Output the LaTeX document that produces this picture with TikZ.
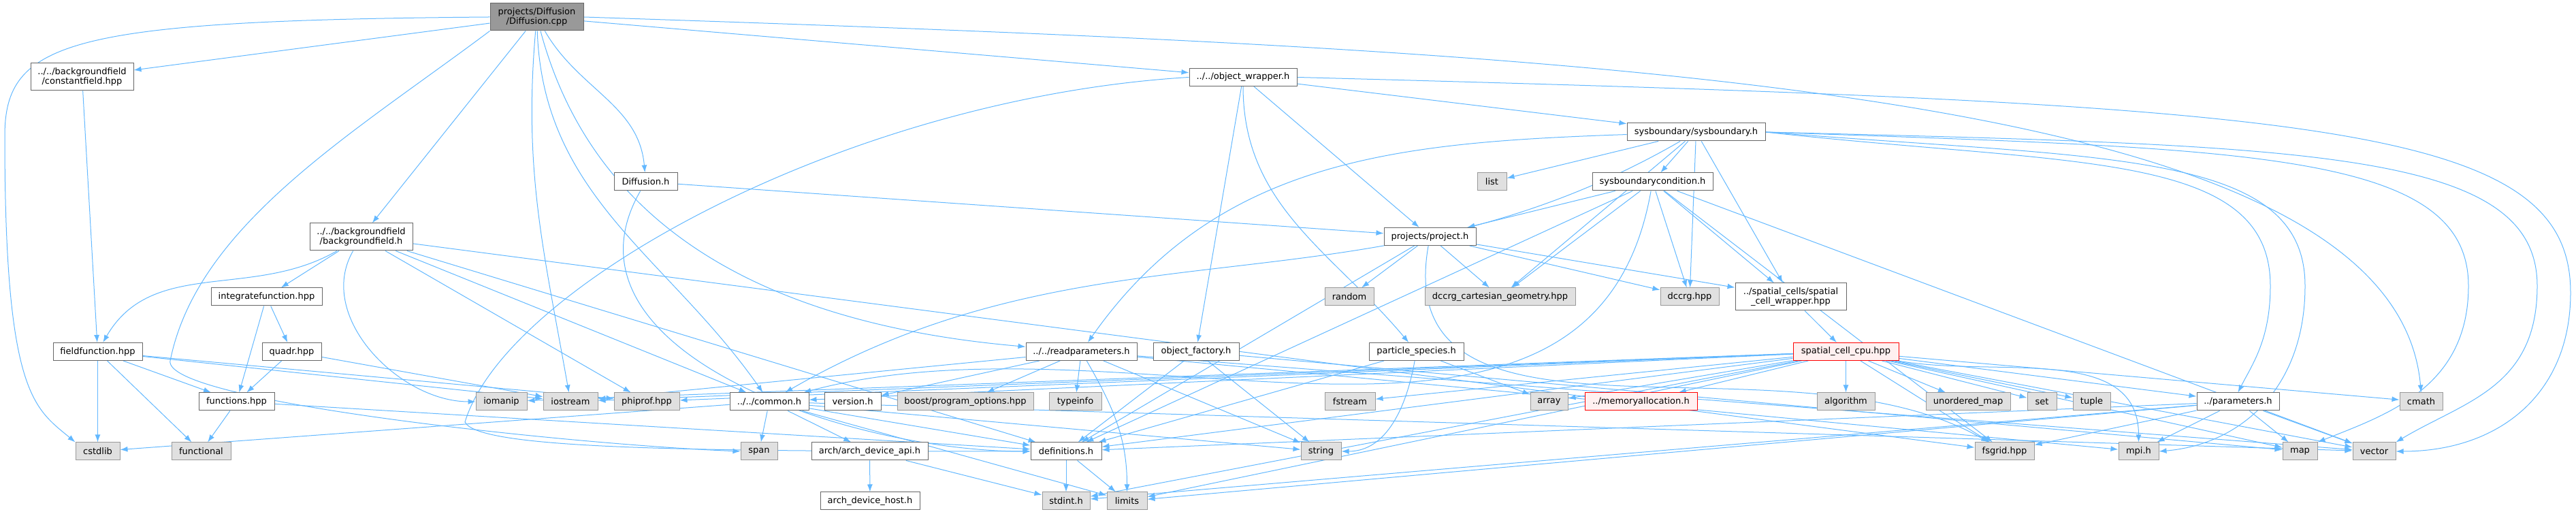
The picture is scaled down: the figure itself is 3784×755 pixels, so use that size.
\documentclass[tikz,border=0pt]{standalone}
\usepackage{fontspec}
\setmainfont{DejaVu Sans}
\usetikzlibrary{arrows.meta,backgrounds}
\definecolor{edgeblue}{HTML}{63B8FF}
\definecolor{sysfill}{HTML}{E0E0E0}
\definecolor{truncfill}{HTML}{FFF0F0}
\tikzset{
 file/.style
  = {rectangle, draw=black!60, fill=white, line width=0.25pt, inner xsep=0.5pt,
     inner ysep=0pt, minimum height=6.5pt, align=center,
     font=\fontsize{3.25}{3.65}\selectfont},
 sys/.style
  = {file, draw=black!40, fill=sysfill},
 root/.style
  = {file, fill=black!40, minimum height=10pt},
 trunc/.style
  = {file, draw=red, fill=truncfill},
 twoline/.style
  = {minimum height=10pt},
 wd/.style
  = {minimum width=0.25pt*#1},
 dep/.style
  = {draw=edgeblue, line width=0.25pt, -{Latex[length=2.75pt,width=2pt]}},
}

\begin{document}
\begin{tikzpicture}[x=0.25pt, y=-0.25pt]
\useasboundingbox (0,0) rectangle (3784,755);

% Top of the graph
\node[root, wd=137] (main) at (788.5,25) {projects/Diffusion\\/Diffusion.cpp};
\node[file, twoline, wd=151] (constF) at (120.5,113) {../../backgroundfield\\/constantfield.hpp};
\node[file, wd=158] (objWrap) at (1826,113.5) {../../object\_wrapper.h};
\node[file, wd=203] (sysbnd) at (2491.5,194) {sysboundary/sysboundary.h};
\node[file, wd=93] (diffH) at (948.5,267) {Diffusion.h};
\node[sys, wd=43] (list) at (2191.5,267) {list};
\node[file, wd=177] (sysbc) at (2427.5,267) {sysboundarycondition.h};
\node[file, twoline, wd=151] (bgField) at (530.5,348) {../../backgroundfield\\/backgroundfield.h};
\node[file, wd=135] (project) at (2100.5,347.5) {projects/project.h};

% Row 436
\node[file, wd=163] (integ) at (391.5,436) {integratefunction.hpp};
\node[sys, wd=72] (random) at (1982,436) {random};
\node[sys, wd=221] (dccrgCart) at (2203.5,436) {dccrg\_cartesian\_geometry.hpp};
\node[sys, wd=86] (dccrg) at (2482,436) {dccrg.hpp};
\node[file, twoline, wd=163] (scWrap) at (2630.5,436) {../spatial\_cells/spatial\\\_cell\_wrapper.hpp};

% Row 516
\node[file, wd=131] (fieldF) at (143.5,516.5) {fieldfunction.hpp};
\node[file, wd=87] (quadr) at (428.5,516.5) {quadr.hpp};
\node[file, wd=163] (readparams) at (1588.5,516.5) {../../readparameters.h};
\node[file, wd=126] (objFact) at (1757,516.5) {object\_factory.h};
\node[file, wd=139] (partSp) at (2080.5,516.5) {particle\_species.h};
\node[trunc, wd=155] (scCpu) at (2711.5,516.5) {spatial\_cell\_cpu.hpp};

% Row 590
\node[file, wd=111] (funcs) at (347.5,590) {functions.hpp};
\node[sys, wd=75] (iomanip) at (736.5,590) {iomanip};
\node[sys, wd=80] (iostream) at (838,590) {iostream};
\node[sys, wd=96] (phiprof) at (950,590) {phiprof.hpp};
\node[file, wd=116] (common) at (1130,590) {../../common.h};
\node[file, wd=83] (version) at (1252.5,590) {version.h};
\node[sys, wd=200] (boost) at (1418,590) {boost/program\_options.hpp};
\node[sys, wd=77] (typeinfo) at (1579.5,590) {typeinfo};
\node[sys, wd=74] (fstream) at (1983,590) {fstream};
\node[sys, wd=55] (array) at (2275.5,590) {array};
\node[trunc, wd=165] (memAlloc) at (2410.5,590) {../memoryallocation.h};
\node[sys, wd=85] (algorithm) at (2711.5,590) {algorithm};
\node[sys, wd=124] (unordMap) at (2891,590) {unordered\_map};
\node[sys, wd=43] (set) at (2999.5,590) {set};
\node[sys, wd=55] (tuple) at (3072.5,590) {tuple};
\node[file, wd=121] (params) at (3287.5,590) {../parameters.h};
\node[sys, wd=63] (cmath) at (3556.5,590) {cmath};

% Row 663
\node[sys, wd=65] (cstdlib) at (143.5,663) {cstdlib};
\node[sys, wd=87] (functional) at (295.5,663) {functional};
\node[sys, wd=54] (span) at (1115,663) {span};
\node[file, wd=171] (archApi) at (1277.5,663) {arch/arch\_device\_api.h};
\node[file, wd=104] (defs) at (1566,663) {definitions.h};
\node[sys, wd=59] (string) at (1940.5,663) {string};
\node[sys, wd=87] (fsgrid) at (2944.5,663) {fsgrid.hpp};
\node[sys, wd=59] (mpi) at (3141.5,663) {mpi.h};
\node[sys, wd=51] (map) at (3378.5,663) {map};
\node[sys, wd=63] (vector) at (3487.5,663) {vector};

% Bottom row
\node[file, wd=146] (archHost) at (1278,736) {arch\_device\_host.h};
\node[sys, wd=70] (stdint) at (1566,736) {stdint.h};
\node[sys, wd=59] (limits) at (1655.5,736) {limits};

% Waypoints of the long connectors
\coordinate (lftA) at (7,200);
\coordinate (loopA) at (250,530);
\coordinate (loopD) at (683,620);
\coordinate (rgtA) at (3776,430);
\coordinate (dropV) at (3727,420);
\coordinate (dropM) at (3626,420);
\coordinate (dropP) at (3386,420);
\coordinate (dropQ) at (3335,420);

\begin{scope}[on background layer, every edge/.style={dep}]
% Includes of Diffusion.cpp
\path (main) edge (constF) edge (bgField) edge[out=-95,in=100] (iostream)
  edge[out=-88,in=125] (common) edge[out=-75,in=175] (readparams)
  edge[out=-60,in=95] (diffH) edge (objWrap);
\draw[dep] (main.west) .. controls +(-620,5) and +(0,-140) .. (lftA)
  .. controls +(0,380) and +(-60,-50) .. (cstdlib.north west);
\draw[dep] (main.south west) .. controls +(-200,150) and +(40,-200) .. (loopA)
  .. controls +(-10,60) and +(-250,-10) .. (span.west);
\draw[dep] (main.east) .. controls +(1500,50) and +(-40,-450) .. (cmath.north);

\path (constF) edge (fieldF);
\path (bgField) edge[out=-150,in=60] (fieldF) edge (integ) edge[out=-120,in=180] (iomanip)
  edge (phiprof) edge (common) edge (defs) edge (fsgrid);
\path (diffH) edge (project) edge[out=-120,in=180] (defs);
\path (objWrap) edge (sysbnd) edge (project) edge (objFact) edge[out=-90,in=130] (partSp);
\draw[dep] (objWrap.west) .. controls +(-500,30) and +(60,-200) .. (loopD)
  .. controls +(20,40) and +(-500,0) .. (defs.west);
\draw[dep] (objWrap.east) .. controls +(1500,40) and +(0,-250) .. (rgtA)
  .. controls +(0,150) and +(150,0) .. (vector.east);

% sysboundary
\path (sysbnd) edge[out=182,in=55] (readparams) edge (list) edge (sysbc)
  edge[out=-150,in=30] (common) edge (dccrgCart) edge (dccrg) edge (scWrap);
\draw[dep] (sysbnd.east) .. controls +(800,20) and +(0,-200) .. (dropV)
  .. controls +(0,150) and +(100,-60) .. (vector.north east);
\draw[dep] (sysbnd.east) .. controls +(700,25) and +(0,-200) .. (dropM)
  .. controls +(0,150) and +(100,-40) .. (map.north east);
\draw[dep] (sysbnd.east) .. controls +(500,40) and +(0,-200) .. (dropP)
  .. controls +(0,150) and +(120,-10) .. (mpi.east);
\draw[dep] (sysbnd.east) .. controls +(450,50) and +(0,-200) .. (dropQ)
  .. controls +(0,80) and +(20,-40) .. (params.north);
\path (sysbc) edge (project) edge (dccrgCart) edge (dccrg) edge (scWrap)
  edge[out=-100,in=15] (common) edge (defs) edge (fsgrid) edge (vector);
\path (project) edge (random) edge (dccrgCart) edge (dccrg) edge (scWrap)
  edge[out=-100,in=150] (fsgrid) edge (defs);

% backgroundfield helpers
\path (integ) edge (quadr) edge (funcs);
\path (quadr) edge (funcs) edge (iostream);
\path (fieldF) edge (cstdlib) edge (functional) edge (funcs) edge (iostream) edge (phiprof);
\path (funcs) edge (functional) edge (defs);

% common and friends
\path (common) edge (span) edge (archApi) edge (defs) edge (limits)
  edge (string) edge (vector) edge (cstdlib);
\path (archApi) edge (archHost) edge (stdint);
\path (defs) edge (stdint) edge (limits);
\path (readparams) edge (version) edge (boost) edge (typeinfo) edge[out=-60,in=90] (limits)
  edge (string) edge (vector) edge (mpi) edge (iostream);
\path (objFact) edge (defs) edge (map) edge (string);
\path (partSp) edge[out=-100,in=0] (string) edge (array) edge (defs);

% spatial cells
\path (scWrap) edge (scCpu);
\path (scCpu) edge (algorithm) edge (unordMap) edge (set) edge (tuple)
  edge[out=-10,in=90] (mpi) edge (cmath) edge (params) edge (map) edge (vector)
  edge (fstream) edge (array) edge (memAlloc) edge (iostream) edge (phiprof)
  edge (common) edge (defs) edge (limits) edge (stdint) edge (fsgrid) edge (iomanip);
\path (params) edge (defs) edge (fsgrid) edge (mpi) edge (limits)
  edge (stdint) edge (map) edge (vector);
\end{scope}

\end{tikzpicture}
\end{document}
